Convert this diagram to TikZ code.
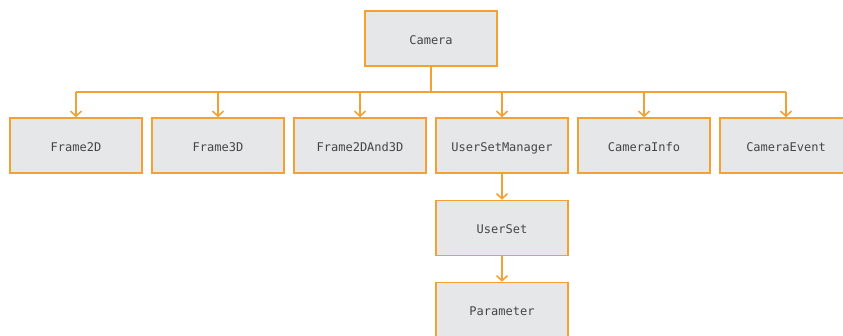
\documentclass[tikz,border=0pt]{standalone}
\usepackage{fontspec}
\setmonofont{DejaVu Sans Mono}
\usetikzlibrary{arrows.meta}
\definecolor{edgeorange}{HTML}{F5A033}
\definecolor{boxfill}{HTML}{E6E7E9}
\definecolor{txtgray}{HTML}{454545}
\begin{document}
\begin{tikzpicture}[x=1pt,y=-1pt,
  cls/.style={draw=edgeorange,line width=1.6pt,fill=boxfill,minimum width=132pt,minimum height=55pt,inner sep=0pt,
    text height=11.5pt,text depth=0pt,
    font=\ttfamily\fontsize{12}{14}\selectfont,text=txtgray},
  conn/.style={draw=edgeorange,line width=1.6pt,-{Straight Barb[length=5pt,width=11pt,line width=1.6pt]}},
  plain/.style={draw=edgeorange,line width=1.6pt}]
\useasboundingbox (0,0) rectangle (843,335);
\begin{scope}
\clip (0,0) rectangle (843,335);
\node[cls] (camera) at (431,38.5) {Camera};
\node[cls] (f2d) at (76,145.5) {Frame2D};
\node[cls] (f3d) at (218,145.5) {Frame3D};
\node[cls] (f23) at (360,145.5) {Frame2DAnd3D};
\node[cls] (usm) at (502,145.5) {UserSetManager};
\node[cls] (info) at (644,145.5) {CameraInfo};
\node[cls] (event) at (786,145.5) {CameraEvent};
\node[cls] (us) at (502,228) {UserSet};
\node[cls] (param) at (502,310) {Parameter};
\coordinate (busmid) at (431,92);
\coordinate (busl) at (76,92);
\coordinate (busr) at (786,92);
\draw[plain] (camera.south) -- (busmid);
\draw[plain] (busl) -- (busr);
\foreach \n in {f2d,f3d,f23,usm,info,event}{
  \draw[conn] (\n.north |- busmid) -- (\n.north);
}
\draw[conn] (usm.south) -- (us.north);
\draw[conn] (us.south) -- (param.north);
\end{scope}
\end{tikzpicture}
\end{document}
